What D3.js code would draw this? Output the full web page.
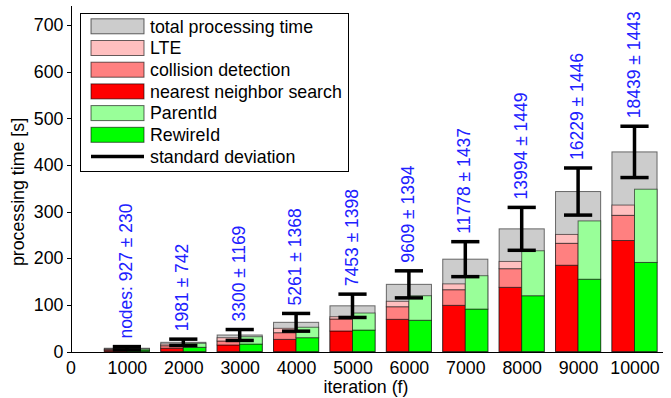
<!DOCTYPE html>
<html>
<head>
<meta charset="utf-8">
<title>Processing time per iteration</title>
<style>
  body { margin: 0; background: #fff; }
  svg { display: block; font-family: "Liberation Sans", Arial, sans-serif; }
  .axis path, .axis line { stroke: #000; shape-rendering: crispEdges; }
  .axis text { font-size: 17.8px; fill: #000; }
  .seg { stroke: rgba(0,0,0,0.55); stroke-width: 1; }
  .err { stroke: #000; stroke-width: 3.5; fill: none; }
  .nodes { font-size: 17.5px; fill: #2020ff; }
  .legend text { font-size: 17.8px; fill: #000; }
</style>
</head>
<body>
<div id="chart"></div>
<script src="https://d3js.org/d3.v7.min.js"></script>
<script>
// data
var iterations = [1000, 2000, 3000, 4000, 5000, 6000, 7000, 8000, 9000, 10000];
var totalTime  = [7, 19.7, 35.4, 62.6, 98, 144, 198, 263, 343, 428];
var totalSd    = [3.5, 6.8, 11.7, 19, 25, 29, 37.5, 46, 50.5, 55];
var nnSearch   = [2.5, 7, 14, 26, 44, 69, 99, 137.6, 185, 238];
var collision  = [2, 5.4, 8.5, 14.3, 25.7, 27, 33.5, 40, 47, 54];
var lte        = [1, 3.6, 7.1, 9.4, 4.9, 11.6, 12.5, 15.5, 19, 22];
var rewireId   = [3, 9, 16, 29.6, 46, 67, 91, 119.6, 155, 191];
var parentId   = [2.5, 8.6, 15.7, 22.4, 36.5, 52.6, 71.5, 96.4, 125, 157];
var nodeMean   = [927, 1981, 3300, 5261, 7453, 9609, 11778, 13994, 16229, 18439];
var nodeSd     = [230, 742, 1169, 1368, 1398, 1394, 1437, 1449, 1446, 1443];
var xTicks = [0, 1000, 2000, 3000, 4000, 5000, 6000, 7000, 8000, 9000, 10000];
var yTicks = [0, 100, 200, 300, 400, 500, 600, 700];

var W = 671, H = 398;
var svg = d3.select("#chart").append("svg").attr("width", W).attr("height", H);

var x = d3.scaleLinear().domain([0, 10500]).range([70.5, 662.7]);
var y = d3.scaleLinear().domain([0, 743]).range([351.5, 5]);

var halfBar = 400, halfCap = 250;

var rows = iterations.map(function(it, i) {
  return { it: it, total: totalTime[i], sd: totalSd[i], nn: nnSearch[i], col: collision[i], lte: lte[i],
           rew: rewireId[i], par: parentId[i], nm: nodeMean[i], ns: nodeSd[i] };
});

// total bars (gray, behind)
svg.append("g").selectAll("rect").data(rows).enter().append("rect")
  .attr("class", "seg")
  .attr("x", function(d) { return x(d.it - halfBar); })
  .attr("width", function(d) { return x(d.it + halfBar) - x(d.it - halfBar); })
  .attr("y", function(d) { return y(d.total); })
  .attr("height", function(d) { return y(0) - y(d.total); })
  .attr("fill", "#cccccc");

// red stack (left half) and green stack (right half)
var redStack = d3.stack().keys(["nn", "col", "lte"])(rows);
var redColors = { nn: "#ff0000", col: "#ff8080", lte: "#ffbfbf" };
var greenStack = d3.stack().keys(["rew", "par"])(rows);
var greenColors = { rew: "#00ff00", par: "#99ff99" };

function drawStack(stack, colors, x0off, x1off) {
  svg.append("g").selectAll("g").data(stack).enter().append("g")
    .attr("fill", function(s) { return colors[s.key]; })
    .selectAll("rect").data(function(s) { return s; }).enter().append("rect")
    .attr("class", "seg")
    .attr("x", function(d) { return x(d.data.it + x0off); })
    .attr("width", function(d) { return x(d.data.it + x1off) - x(d.data.it + x0off); })
    .attr("y", function(d) { return y(d[1]); })
    .attr("height", function(d) { return y(d[0]) - y(d[1]); });
}
drawStack(redStack, redColors, -halfBar, 0);
drawStack(greenStack, greenColors, 0, halfBar);

// error bars
var eb = svg.append("g").selectAll("g").data(rows).enter().append("g").attr("class", "err");
eb.append("line")
  .attr("x1", function(d) { return x(d.it); }).attr("x2", function(d) { return x(d.it); })
  .attr("y1", function(d) { return y(d.total - d.sd); }).attr("y2", function(d) { return y(d.total + d.sd); });
eb.append("line")
  .attr("x1", function(d) { return x(d.it - halfCap); }).attr("x2", function(d) { return x(d.it + halfCap); })
  .attr("y1", function(d) { return y(d.total + d.sd); }).attr("y2", function(d) { return y(d.total + d.sd); });
eb.append("line")
  .attr("x1", function(d) { return x(d.it - halfCap); }).attr("x2", function(d) { return x(d.it + halfCap); })
  .attr("y1", function(d) { return y(d.total - d.sd); }).attr("y2", function(d) { return y(d.total - d.sd); });

// node count labels
svg.append("g").selectAll("text").data(rows).enter().append("text")
  .attr("class", "nodes")
  .attr("transform", function(d) { return "translate(" + (x(d.it) - 1) + "," + (y(d.total + d.sd) - 8) + ") rotate(-90)"; })
  .attr("dy", "0.35em")
  .text(function(d, i) { return (i === 0 ? "nodes: " : "") + d.nm + " \u00b1 " + d.ns; });

// axes
svg.append("g").attr("class", "axis")
  .attr("transform", "translate(0," + y(0) + ")")
  .call(d3.axisBottom(x).tickValues(xTicks).tickSize(0).tickPadding(6).tickFormat(d3.format("d")))
  .call(function(g) { g.selectAll("text").attr("dy", "0.9em"); });

svg.append("g").attr("class", "axis")
  .attr("transform", "translate(" + x(0) + ",0)")
  .call(d3.axisLeft(y).tickValues(yTicks).tickSize(4).tickSizeOuter(0).tickPadding(3));

svg.append("text").attr("x", 366).attr("y", 393).attr("text-anchor", "middle")
  .style("font-size", "17.8px").text("iteration (f)");
svg.append("text").attr("transform", "translate(24,192) rotate(-90)").attr("text-anchor", "middle")
  .style("font-size", "17.8px").text("processing time [s]");

// legend
var legendItems = [
  { name: "total processing time", color: "#cccccc" },
  { name: "LTE", color: "#ffbfbf" },
  { name: "collision detection", color: "#ff8080" },
  { name: "nearest neighbor search", color: "#ff0000" },
  { name: "ParentId", color: "#99ff99" },
  { name: "RewireId", color: "#00ff00" },
  { name: "standard deviation", color: null }
];
var lg = svg.append("g").attr("class", "legend");
lg.append("rect").attr("x", 80.5).attr("y", 13.5).attr("width", 268).attr("height", 158)
  .attr("fill", "#fff").attr("stroke", "#000");
var li = lg.selectAll("g").data(legendItems).enter().append("g")
  .attr("transform", function(d, i) { return "translate(0," + (26.3 + i * 21.7) + ")"; });
li.filter(function(d) { return d.color; }).append("rect")
  .attr("x", 91).attr("y", -7.5).attr("width", 53).attr("height", 15)
  .attr("fill", function(d) { return d.color; }).attr("stroke", "rgba(0,0,0,0.6)");
li.filter(function(d) { return !d.color; }).append("line")
  .attr("x1", 91).attr("x2", 144).attr("stroke", "#000").attr("stroke-width", 3.5);
li.append("text").attr("x", 150).attr("dy", "0.35em").text(function(d) { return d.name; });
</script>
</body>
</html>
